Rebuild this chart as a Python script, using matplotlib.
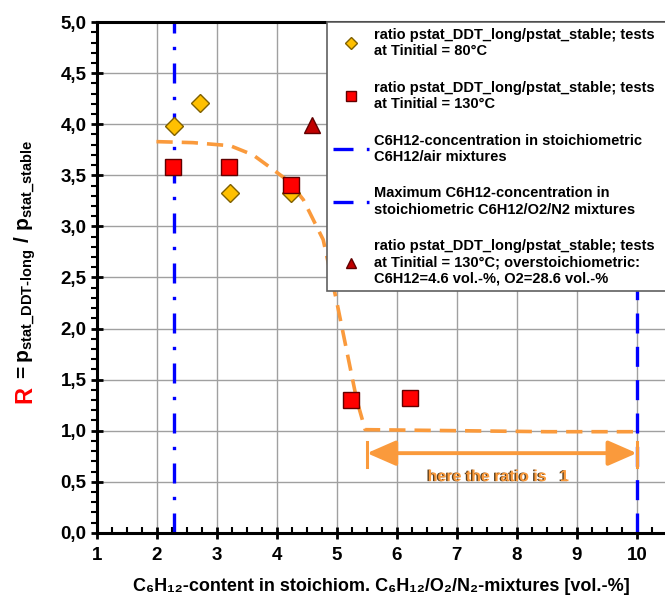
import matplotlib
matplotlib.use("Agg")
import matplotlib.pyplot as plt
from matplotlib.ticker import MultipleLocator, FuncFormatter
import matplotlib.patheffects as pe

# ---- data ----
x_80 = [2.28, 2.71, 3.22, 4.24]
r_80 = [3.98, 4.21, 3.33, 3.33]
x_130 = [2.27, 3.20, 4.23, 5.24, 6.22]
r_130 = [3.58, 3.58, 3.41, 1.30, 1.32]
x_over = [4.59]
r_over = [3.99]
curve_x = [1.99, 2.6, 3.22, 3.6, 3.88, 4.2, 4.44, 4.77, 4.99, 5.33, 5.47, 7.0, 8.5, 10.0]
curve_y = [3.83, 3.82, 3.79, 3.70, 3.58, 3.44, 3.26, 2.87, 2.28, 1.30, 1.01, 1.00, 0.99, 0.99]
x_stoich_air = 2.28
x_max = 10.0
arrow_x = [5.5, 10.0]
arrow_y = 0.78
labels = [
    "ratio pstat_DDT_long/pstat_stable; tests\nat Tinitial = 80°C",
    "ratio pstat_DDT_long/pstat_stable; tests\nat Tinitial = 130°C",
    "C6H12-concentration in stoichiometric\nC6H12/air mixtures",
    "Maximum C6H12-concentration in\nstoichiometric C6H12/O2/N2 mixtures",
    "ratio pstat_DDT_long/pstat_stable; tests\nat Tinitial = 130°C; overstoichiometric:\nC6H12=4.6 vol.-%, O2=28.6 vol.-%",
]
x_title = "C₆H₁₂-content in stoichiom. C₆H₁₂/O₂/N₂-mixtures [vol.-%]"

regular = "Liberation Sans"
plt.rcParams['font.family'] = [regular, "DejaVu Sans"]
plt.rcParams['mathtext.fontset'] = 'custom'
plt.rcParams['mathtext.rm'] = f'{regular}:bold'
plt.rcParams['mathtext.bf'] = f'{regular}:bold'
plt.rcParams['mathtext.it'] = f'{regular}:bold'
plt.rcParams['mathtext.sf'] = f'{regular}:bold'
plt.rcParams['mathtext.default'] = 'bf'

fig = plt.figure(figsize=(6.65, 5.98), dpi=100)
ax = fig.add_axes([0.146, 0.109, 0.854, 0.854])

ax.set_xlim(1, 10.47)
ax.set_ylim(0, 5)

ax.xaxis.set_major_locator(MultipleLocator(1))
ax.xaxis.set_minor_locator(MultipleLocator(0.25))
ax.yaxis.set_major_locator(MultipleLocator(0.5))
ax.yaxis.set_minor_locator(MultipleLocator(0.1))
ax.yaxis.set_major_formatter(FuncFormatter(lambda v, p: f"{v:.1f}".replace(".", ",")))
ax.xaxis.set_major_formatter(FuncFormatter(lambda v, p: f"{int(round(v))}"))
ax.grid(True, which='major', color='#a0a0a0', lw=1.0)
ax.set_axisbelow(True)

for s in ['left', 'bottom', 'top']:
    ax.spines[s].set_linewidth(2.2)
    ax.spines[s].set_color('black')
ax.spines['right'].set_visible(False)

ax.tick_params(axis='both', which='major', direction='inout', length=8, width=2, labelsize=13.5)
ax.tick_params(axis='x', which='minor', direction='in', length=4, width=1.5)
ax.tick_params(axis='y', which='minor', direction='out', length=4, width=1.5)
ax.tick_params(axis='x', which='major', pad=6)
for lab in ax.get_xticklabels() + ax.get_yticklabels():
    lab.set_fontweight('bold')

# vertical lines
l3, = ax.plot([x_stoich_air, x_stoich_air], [0, 5], color='#0000ff', lw=2.4,
              dashes=(6, 4, 1, 4), label=labels[2])
l4, = ax.plot([x_max, x_max], [0, 5], color='#0000ff', lw=2.4,
              dashes=(6, 4), label=labels[3])

# curve
ax.plot(curve_x, curve_y, color='#fa9a3c', lw=2.6, dashes=(4.5, 2.5), zorder=3)

# arrow
ax.annotate('', xy=(arrow_x[1], arrow_y), xytext=(arrow_x[0], arrow_y),
            arrowprops=dict(arrowstyle='<|-|>,head_length=0.8,head_width=0.35', color='#fa9a3c', lw=2.8,
                            mutation_scale=22, shrinkA=0, shrinkB=0), zorder=4)
for xv in arrow_x:
    ax.plot([xv, xv], [0.64, 0.89], color='#fa9a3c', lw=2.2, zorder=4)
ax.text((arrow_x[0] + arrow_x[1]) / 2 - 0.05, 0.55, "here the ratio is   1", color='#fa9a3c',
        fontsize=11.5, fontweight='bold', ha='center', va='center', zorder=5,
        path_effects=[pe.withSimplePatchShadow(offset=(-1, 0), shadow_rgbFace='#5a4020', alpha=1.0)])

# points
l1, = ax.plot(x_80, r_80, ls='none', marker='D', ms=9, mfc='#ffc000', mec='#7f6000',
              mew=1, label=labels[0], zorder=5)
l2, = ax.plot(x_130, r_130, ls='none', marker='s', ms=12, mfc='#ff0000', mec='#600000',
              mew=1, label=labels[1], zorder=6)
l5, = ax.plot(x_over, r_over, ls='none', marker='^', ms=12, mfc='#c00000', mec='#600000',
              mew=1, label=labels[4], zorder=6)

leg = ax.legend(handles=[l1, l2, l3, l4, l5], loc='upper left',
                bbox_to_anchor=(0.405, 1.0, 0.6, 0.0), mode='expand',
                fancybox=False, framealpha=1, edgecolor='#606060',
                prop=dict(family=[regular, "DejaVu Sans"], weight='bold', size=10.5),
                markerscale=0.65, handlelength=2.5, handletextpad=0.3,
                labelspacing=1.55, borderpad=0.4, borderaxespad=0)
leg.get_frame().set_linewidth(1.2)
leg.set_zorder(10)

ax.set_xlabel(x_title, fontsize=13, fontweight='bold', labelpad=10)

# y label: red R then black rest
fig.text(0.038, 0.326, "R", color='#ff0000', fontsize=17, fontweight='bold', rotation=90,
         ha='center', va='bottom')
fig.text(0.038, 0.362, r"$=p_{stat\_DDT\text{-}long}\ /\ p_{stat\_stable}$",
         color='black', fontsize=15, rotation=90, ha='center', va='bottom')

fig.savefig("out.png", dpi=100)
